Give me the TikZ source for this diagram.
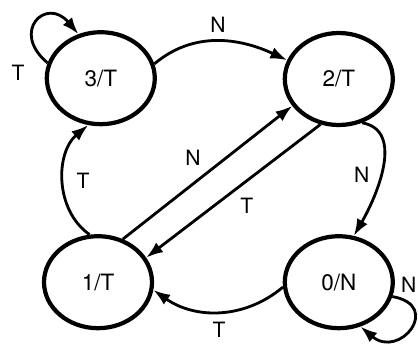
\documentclass[tikz,border=0pt]{standalone}
\usepackage{fontspec}
\setmainfont{TeX Gyre Heros}
\usepackage{tikz}
\usetikzlibrary{shapes.geometric, arrows.meta, positioning}

\begin{document}
\begin{tikzpicture}[
    state/.style={ellipse, draw, line width=3pt, minimum width=2.7cm, minimum height=2.3cm, inner sep=0pt, font=\fontsize{16}{18}\selectfont},
    arrow/.style={->, line width=2pt, >={Latex[length=4.2mm,width=3mm]}},
    lbl/.style={font=\fontsize{15}{17}\selectfont}
]
    \useasboundingbox (0,0) rectangle (10.45,8.675);

    \node[state] (s3) at (2.52, 6.72) {3/T};
    \node[state] (s2) at (8.47, 6.70) {2/T};
    \node[state] (s1) at (2.45, 1.62) {1/T};
    \node[state] (s0) at (8.47, 1.62) {0/N};

    % outer ring
    \draw[arrow] (s3.15) to[out=40, in=155] node[lbl, above=2pt] {N} (s2.160);
    \draw[arrow] (s2.-62) to[out=-10, in=60] node[lbl, left=4pt, pos=0.55] {N} (s0.72);
    \draw[arrow] (s0.185) to[out=220, in=-35] node[lbl, below=3pt] {T} (s1.-8);
    \draw[arrow] (s1.100) to[out=145, in=-140] node[lbl, right=5pt] {T} (s3.-105);

    % diagonals
    \draw[arrow] (s1.60) -- node[lbl, above left=1pt] {N} (s2.210);
    \draw[arrow] (s2.248) -- node[lbl, below right=1pt] {T} (s1.27);

    % self loops
    \draw[arrow] (s3.164) to[out=140, in=130, looseness=3] (s3.117);
    \node[lbl] (t3) at (0.45, 6.85) {T};
    \draw[arrow] (s0.-15) to[out=-10, in=-40, looseness=3] (s0.-64);
    \node[lbl] (n0) at (10.22, 1.55) {N};
\end{tikzpicture}
\end{document}
